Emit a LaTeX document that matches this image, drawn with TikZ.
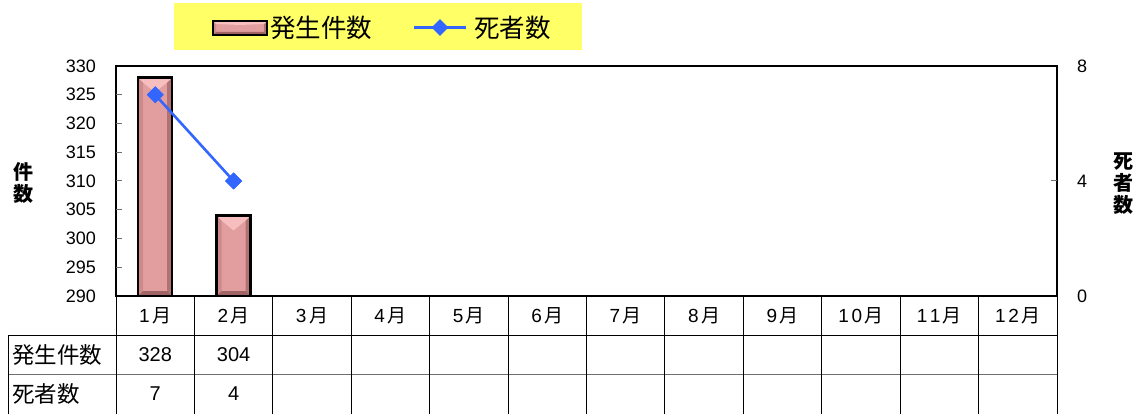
\documentclass[tikz,border=0pt]{standalone}
\usepackage{fontspec}
\setmainfont{Liberation Sans}
\newfontfamily\jp{Noto Sans CJK JP}
\usetikzlibrary{shapes.geometric}
\definecolor{legyellow}{RGB}{255,255,102}
\definecolor{barpink}{RGB}{226,158,158}
\definecolor{barlight}{RGB}{246,190,190}
\definecolor{bardark}{RGB}{160,100,100}
\definecolor{barside}{RGB}{190,125,125}
\definecolor{lineblue}{RGB}{51,102,255}
\definecolor{gridgray}{RGB}{110,110,110}
\tikzset{
  frame/.style={draw=black, line width=1.5pt},
  tabline/.style={draw=black, line width=0.9pt},
  tabgray/.style={draw=gridgray, line width=0.9pt},
  tick/.style={draw=gridgray, line width=1pt},
  axnum/.style={font=\fontsize{18}{20}\selectfont, inner sep=0pt},
  monthlbl/.style={font=\fontsize{19}{21}\selectfont, inner sep=0pt},
  cellnum/.style={font=\fontsize{20}{22}\selectfont, inner sep=0pt},
  rowlbl/.style={font=\jp\fontsize{22.5}{24}\selectfont, inner sep=0pt, anchor=west},
  axtitle/.style={font=\jp\bfseries\fontsize{20}{22}\selectfont, inner sep=0pt, align=center},
  legtext/.style={font=\jp\fontsize{25.5}{27}\selectfont, inner sep=0pt, anchor=west},
  dline/.style={draw=lineblue, line width=2.6pt},
  dmark/.style={fill=lineblue, draw=none, diamond, minimum size=17pt, inner sep=0pt},
}
% bevelled bar: #1=x1, #2=y1 (top), #3=x2, #4=y2 (bottom), #5=bevel, #6=V depth
\newcommand{\bevbar}[6]{%
  \pgfmathsetmacro{\bxc}{(#1+#3)/2}
  \fill[barpink] (#1,#2) rectangle (#3,#4);
  \fill[barside!60!barpink] (#1,#2) -- (#1+#5,#2+#5) -- (#1+#5,#4-#5) -- (#1,#4) -- cycle;
  \fill[bardark!75!barpink] (#3,#2) -- (#3-#5,#2+#5) -- (#3-#5,#4-#5) -- (#3,#4) -- cycle;
  \fill[bardark] (#1,#4) -- (#1+#5,#4-#5) -- (#3-#5,#4-#5) -- (#3,#4) -- cycle;
  \fill[barlight] (#1,#2) -- (#3,#2) -- (#3-#5,#2+#5) -- (\bxc,#2+#6) -- (#1+#5,#2+#5) -- cycle;
  \draw[black, line width=2.4pt] (#1,#2) rectangle (#3,#4);
}
\newcommand{\mon}[1]{#1\hspace{2.5pt}{\jp 月}}
\begin{document}
\begin{tikzpicture}[x=1pt,y=-1pt]
\useasboundingbox (0,0) rectangle (1142,414);
% legend
\fill[legyellow] (174,3) rectangle (582,50);
\bevbar{213}{21}{267}{35}{3}{4}
\node[legtext] (legA) at (270,27.5) {発生件数};
\coordinate (lineL) at (414,27.5);
\coordinate (lineR) at (466,27.5);
\draw[dline] (lineL) -- (lineR);
\node[dmark] (legD) at (440,27.5) {};
\node[legtext] (legB) at (474,27.5) {死者数};
% plot frame
\draw[frame] (116,66) rectangle (1057,296);
% left ticks and labels
\foreach \v [count=\i from 0] in {290,295,...,330} {
  \pgfmathsetmacro{\yy}{296-\i*28.75}
  \ifnum\i>0 \ifnum\i<8 \draw[tick] (116,\yy) -- (122,\yy); \fi\fi
  \node[axnum, anchor=east] (yl\i) at (96,\yy) {\v};
}
% right ticks and labels
\draw[tick] (1051,181) -- (1057,181);
\node[axnum, anchor=west] (yr0) at (1077,296) {0};
\node[axnum, anchor=west] (yr4) at (1077,181) {4};
\node[axnum, anchor=west] (yr8) at (1077,66) {8};
% axis titles
\node[axtitle] (ttlL) at (23,183) {件\\数};
\node[axtitle] (ttlR) at (1123,184) {死\\者\\数};
% bars
\bevbar{138}{77.5}{172}{296}{5}{15}
\bevbar{216.5}{215.5}{250.5}{296}{5}{15}
% re-draw bottom axis over bars
\draw[frame] (116,296) -- (1057,296);
% deaths line
\node[dmark] (d1) at (155.2,94.75) {};
\node[dmark] (d2) at (233.6,181) {};
\draw[dline] (d1.center) -- (d2.center);
\node[dmark] at (155.2,94.75) {};
\node[dmark] at (233.6,181) {};
% table
\draw[tabline] (8,335) -- (1057,335);
\draw[tabgray] (8,374) -- (1057,374);
\draw[tabline] (8,335) -- (8,414);
\foreach \k in {0,...,12} {
  \pgfmathsetmacro{\xx}{116+\k*78.417}
  \draw[tabline] (\xx,296) -- (\xx,414);
}
\node[monthlbl] (mo1) at (155.2,316) {\mon{1}};
\node[monthlbl] (mo2) at (233.6,316) {\mon{2}};
\node[monthlbl] (mo3) at (312.0,316) {\mon{3}};
\node[monthlbl] (mo4) at (390.5,316) {\mon{4}};
\node[monthlbl] (mo5) at (468.9,316) {\mon{5}};
\node[monthlbl] (mo6) at (547.3,316) {\mon{6}};
\node[monthlbl] (mo7) at (625.7,316) {\mon{7}};
\node[monthlbl] (mo8) at (704.1,316) {\mon{8}};
\node[monthlbl] (mo9) at (782.6,316) {\mon{9}};
\node[monthlbl] (mo10) at (861.0,316) {\mon{1\hspace{2.5pt}0}};
\node[monthlbl] (mo11) at (939.4,316) {\mon{1\hspace{2.5pt}1}};
\node[monthlbl] (mo12) at (1017.8,316) {\mon{1\hspace{2.5pt}2}};
\node[rowlbl] (rowA) at (12,355) {発生件数};
\node[rowlbl] (rowB) at (12,394) {死者数};
\node[cellnum] (cA1) at (155.2,355) {328};
\node[cellnum] (cA2) at (233.6,355) {304};
\node[cellnum] (cB1) at (155.2,394) {7};
\node[cellnum] (cB2) at (233.6,394) {4};
\end{tikzpicture}
\end{document}
